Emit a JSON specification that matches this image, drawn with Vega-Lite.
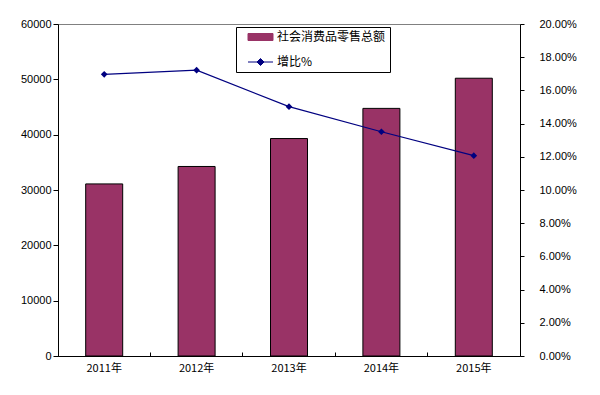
{
  "$schema": "https://vega.github.io/schema/vega-lite/v6.json",
  "width": 462,
  "height": 332,
  "autosize": "none",
  "padding": {"left": 58, "top": 24, "right": 80, "bottom": 39},
  "background": "white",
  "config": {
    "view": {"stroke": "#808080", "strokeWidth": 1},
    "axis": {"domainColor": "black", "tickColor": "black", "labelColor": "black", "grid": false, "title": null, "labelFont": "Liberation Sans", "labelFontSize": 11},
    "legend": {"title": null, "orient": "none", "legendX": 178, "legendY": 3,
      "direction": "vertical", "fillColor": "white", "strokeColor": "black", "padding": 4,
      "labelFont": "Noto Sans CJK SC", "labelFontSize": 12, "labelColor": "black", "labelOffset": 25,
      "symbolSize": 100, "rowPadding": 13, "symbolStrokeWidth": 1}
  },
  "data": {"values": [
    {"year": "2011年", "sales": 31100, "growth": 0.1697},
    {"year": "2012年", "sales": 34250, "growth": 0.1722},
    {"year": "2013年", "sales": 39300, "growth": 0.1502},
    {"year": "2014年", "sales": 44750, "growth": 0.1351},
    {"year": "2015年", "sales": 50200, "growth": 0.1207}
  ]},
  "encoding": {
    "x": {"field": "year", "type": "nominal", "sort": null,
      "scale": {"paddingInner": 0, "paddingOuter": 0},
      "axis": {"labelAngle": 0, "bandPosition": 0, "tickSize": -4, "labelPadding": 10, "labelFont": "Noto Sans CJK SC", "labelFontSize": 11, "domainColor": "black"}}
  },
  "layer": [
    {
      "mark": {"type": "bar", "size": 37, "stroke": "black", "strokeWidth": 1},
      "encoding": {
        "y": {"field": "sales", "type": "quantitative", "scale": {"domain": [0, 60000], "nice": false},
          "axis": {"orient": "left", "values": [0, 10000, 20000, 30000, 40000, 50000, 60000], "format": "d", "tickSize": 5, "labelPadding": 2}},
        "color": {"datum": "社会消费品零售总额", "type": "nominal",
          "scale": {"domain": ["社会消费品零售总额", "增比%"], "range": ["#993366", "#000080"]},
          "legend": {
            "encode": {"symbols": {
              "enter": {
                "shape": {"signal": "datum.label == '增比%' ? 'M0.4,0H5.4M2.2,0L2.9,-0.7L3.6,0L2.9,0.7Z' : 'M0.4,-0.7H5.4V0.7H0.4Z'"}
              },
              "update": {
                "shape": {"signal": "datum.label == '增比%' ? 'M0.4,0H5.4M2.2,0L2.9,-0.7L3.6,0L2.9,0.7Z' : 'M0.4,-0.7H5.4V0.7H0.4Z'"},
                "stroke": {"signal": "datum.label == '增比%' ? '#000080' : 'black'"},
                "fill": {"signal": "datum.label == '增比%' ? '#000080' : '#993366'"}
              }}}}
        }
      }
    },
    {
      "mark": {"type": "line", "stroke": "#000080", "strokeWidth": 1.2, "point": {"shape": "diamond", "size": 45, "filled": true, "fill": "#000080"}},
      "encoding": {
        "y": {"field": "growth", "type": "quantitative", "scale": {"domain": [0, 0.2], "nice": false},
          "axis": {"orient": "right", "values": [0, 0.02, 0.04, 0.06, 0.08, 0.1, 0.12, 0.14, 0.16, 0.18, 0.2], "format": ".2%", "tickSize": 4, "labelPadding": 15}},
        "color": {"datum": "增比%", "type": "nominal",
          "legend": {
            "encode": {"symbols": {
              "enter": {
                "shape": {"signal": "datum.label == '增比%' ? 'M0.4,0H5.4M2.2,0L2.9,-0.7L3.6,0L2.9,0.7Z' : 'M0.4,-0.7H5.4V0.7H0.4Z'"}
              },
              "update": {
                "shape": {"signal": "datum.label == '增比%' ? 'M0.4,0H5.4M2.2,0L2.9,-0.7L3.6,0L2.9,0.7Z' : 'M0.4,-0.7H5.4V0.7H0.4Z'"},
                "stroke": {"signal": "datum.label == '增比%' ? '#000080' : 'black'"},
                "fill": {"signal": "datum.label == '增比%' ? '#000080' : '#993366'"}
              }}}}
        }
      }
    }
  ],
  "resolve": {"scale": {"y": "independent"}}
}
